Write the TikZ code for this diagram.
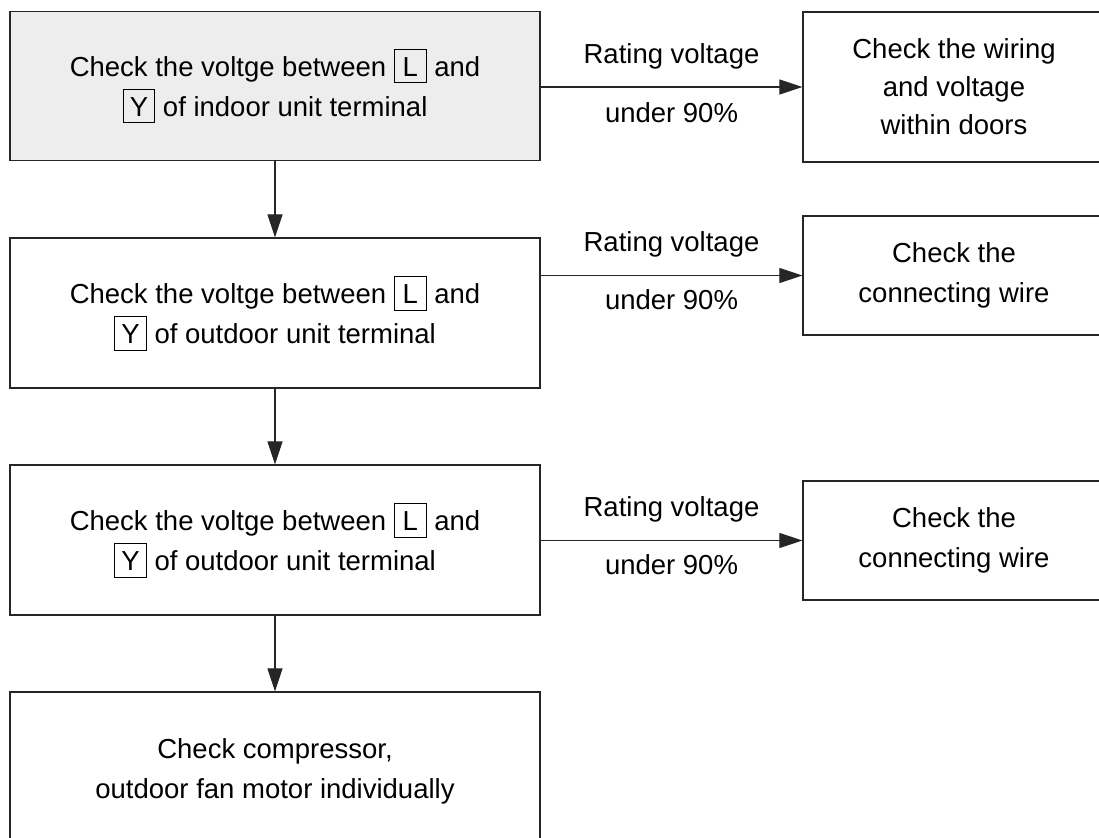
\documentclass[tikz,border=0pt]{standalone}
\usepackage{fontspec}
\setmainfont{Liberation Sans}
\usetikzlibrary{arrows.meta,positioning}
\newcommand\kbox[1]{{\setlength\fboxsep{0pt}\setlength\fboxrule{0.9pt}\fbox{\rule[-6pt]{0pt}{33pt}\makebox[31pt]{#1}}}}
\begin{document}
\begin{tikzpicture}[x=1pt,y=-1pt,
  box/.style={draw=black!85,line width=1.2pt,rectangle,align=center,inner sep=0pt,
    font=\fontsize{27.5}{40}\selectfont},
  leftbox/.style={box,minimum width=530pt},
  rightbox/.style={box,minimum width=302pt},
  arr/.style={draw=black!85,line width=1.1pt,-{Triangle[length=23pt,width=15pt]}},
  lbl/.style={font=\fontsize{27.5}{32}\selectfont,inner sep=0pt}]
\useasboundingbox (0,0) rectangle (1099,837);
\node[leftbox,fill=black!7,minimum height=149pt] (b1) at (275,86)
  {Check the voltge between \kbox{L} and\\ \kbox{Y} of indoor unit terminal};
\node[leftbox,minimum height=150pt] (b2) at (275,313)
  {Check the voltge between \kbox{L} and\\ \kbox{Y} of outdoor unit terminal};
\node[leftbox,minimum height=150pt] (b3) at (275,540)
  {Check the voltge between \kbox{L} and\\ \kbox{Y} of outdoor unit terminal};
\node[leftbox,minimum height=158pt] (b4) at (275,771)
  {Check compressor,\\ outdoor fan motor individually};
\node[rightbox,minimum height=150pt,font=\fontsize{27.5}{38}\selectfont] (r1) at (954,87)
  {Check the wiring\\ and voltage\\ within doors};
\node[rightbox,minimum height=119pt] (r2) at (954,275.5)
  {Check the\\ connecting wire};
\node[rightbox,minimum height=119pt] (r3) at (954,540.5)
  {Check the\\ connecting wire};
\draw[arr] (b1) -- (b2);
\draw[arr] (b2) -- (b3);
\draw[arr] (b3) -- (b4);
\draw[arr] (b1.east |- r1.west) -- (r1.west)
  node[lbl,midway,yshift=31pt] (t1) {Rating voltage}
  node[lbl,midway,yshift=-26pt] (u1) {under 90\%};
\draw[arr] (b2.east |- r2.west) -- (r2.west)
  node[lbl,midway,yshift=31pt] (t2) {Rating voltage}
  node[lbl,midway,yshift=-24pt] (u2) {under 90\%};
\draw[arr] (b3.east |- r3.west) -- (r3.west)
  node[lbl,midway,yshift=31pt] (t3) {Rating voltage}
  node[lbl,midway,yshift=-24pt] (u3) {under 90\%};
\end{tikzpicture}
\end{document}
